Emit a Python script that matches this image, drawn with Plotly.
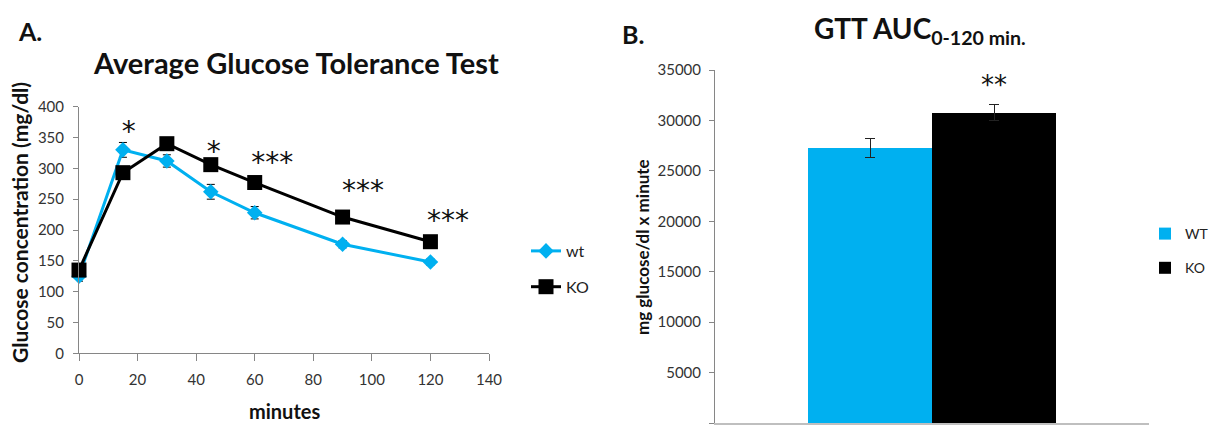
import plotly.graph_objects as go

# ---------------- Panel A data ----------------
minutes = [0, 15, 30, 45, 60, 90, 120]
wt_glucose = [125, 330, 312, 262, 228, 177, 148]
wt_sem = [8, 12, 10, 12, 10, 6, 5]
ko_glucose = [135, 293, 340, 306, 277, 221, 181]
ko_sem = [8, 10, 8, 8, 7, 6, 6]

sig_x = [17, 46, 66, 97, 126]
sig_y = [355, 324, 305, 260, 211]
sig_labels = ["*", "*", "***", "***", "***"]

x_ticks = [0, 20, 40, 60, 80, 100, 120, 140]
y_ticks_a = [0, 50, 100, 150, 200, 250, 300, 350, 400]

# ---------------- Panel B data ----------------
auc_groups = ["WT", "KO"]
auc_values = [27290, 30760]
auc_sem = [940, 800]
auc_sig_group = ["KO"]
auc_sig_y = [33240]
auc_sig_label = ["**"]
y_ticks_b = [0, 5000, 10000, 15000, 20000, 25000, 30000, 35000]

BLUE = "#00B0F0"
BLACK = "#000000"
AXIS = "#868686"
FONT = "Lato"
STAR_FONT = "DejaVu Sans"
W, H = 1212, 425

fig = go.Figure()

# Panel A lines
fig.add_trace(go.Scatter(
    x=minutes, y=wt_glucose, name="wt", mode="lines+markers",
    line=dict(color=BLUE, width=3),
    marker=dict(symbol="diamond", size=12, color=BLUE),
    error_y=dict(type="data", array=wt_sem, color=BLACK, thickness=1, width=4),
    cliponaxis=False, xaxis="x", yaxis="y", legend="legend", legendgroup="wt",
))
fig.add_trace(go.Scatter(
    x=minutes, y=ko_glucose, name="KO", mode="lines+markers",
    line=dict(color=BLACK, width=3),
    marker=dict(symbol="square", size=15, color=BLACK),
    error_y=dict(type="data", array=ko_sem, color=BLACK, thickness=1, width=4),
    cliponaxis=False, xaxis="x", yaxis="y", legend="legend", legendgroup="ko",
))
fig.add_trace(go.Scatter(
    x=sig_x, y=sig_y, text=sig_labels, mode="text", showlegend=False,
    textfont=dict(family=STAR_FONT, size=28, color="#111"),
    textposition="middle center", cliponaxis=False, xaxis="x", yaxis="y",
))

# Panel B bars
fig.add_trace(go.Bar(
    x=[auc_groups[0]], y=[auc_values[0]], name="WT", marker=dict(color=BLUE, line=dict(width=0)),
    error_y=dict(type="data", array=[auc_sem[0]], color="#222", thickness=1, width=5),
    xaxis="x2", yaxis="y2", legend="legend2", legendgroup="WT",
))
fig.add_trace(go.Bar(
    x=[auc_groups[1]], y=[auc_values[1]], name="KO", marker=dict(color=BLACK, line=dict(width=0)),
    error_y=dict(type="data", array=[auc_sem[1]], color="#222", thickness=1, width=5),
    xaxis="x2", yaxis="y2", legend="legend2", legendgroup="KO",
))
fig.add_trace(go.Scatter(
    x=auc_sig_group, y=auc_sig_y, text=auc_sig_label, mode="text", showlegend=False,
    textfont=dict(family=STAR_FONT, size=26, color="#111"),
    textposition="middle center", cliponaxis=False, xaxis="x2", yaxis="y2",
))

tickfont = dict(family=FONT, size=15, color="#333")

fig.update_layout(
    width=W, height=H,
    margin=dict(l=0, r=0, t=0, b=0, autoexpand=False),
    paper_bgcolor="white", plot_bgcolor="white",
    font=dict(family=FONT, color="#111"),
    barmode="overlay", bargap=0,
    xaxis=dict(domain=[79 / W, 489 / W], range=[0, 140], tickvals=x_ticks,
               ticks="outside", ticklen=7, tickcolor=AXIS, showline=True, linecolor=AXIS,
               linewidth=1, showgrid=False, zeroline=False, tickfont=tickfont,
               ticklabelstandoff=6, anchor="y"),
    yaxis=dict(domain=[1 - 353.3 / H, 1 - 106.7 / H], range=[0, 400], tickvals=y_ticks_a,
               ticks="outside", ticklen=5, tickcolor=AXIS, showline=True, linecolor=AXIS,
               linewidth=1, showgrid=False, zeroline=False, tickfont=tickfont,
               ticklabelstandoff=6, anchor="x"),
    xaxis2=dict(domain=[715 / W, 1149 / W], range=[-1.25, 2.25], type="category",
                showticklabels=False, ticks="", showline=True, linecolor="#BFBFBF",
                linewidth=3, showgrid=False, zeroline=False, anchor="y2"),
    yaxis2=dict(domain=[1 - 423 / H, 1 - 70 / H], range=[0, 35000], tickvals=y_ticks_b,
                tickformat="d",
                ticks="outside", ticklen=5, tickcolor=AXIS, showline=True, linecolor=AXIS,
                linewidth=1, showgrid=False, zeroline=False, tickfont=tickfont,
                ticklabelstandoff=5, anchor="x2"),
    legend=dict(x=526 / W, y=1 - 234 / H, xanchor="left", yanchor="top",
                font=dict(family=FONT, size=16, color="#222"), bgcolor="rgba(0,0,0,0)",
                traceorder="grouped", tracegroupgap=12, itemwidth=30),
    legend2=dict(x=1145 / W, y=1 - 218 / H, xanchor="left", yanchor="top",
                 font=dict(family=FONT, size=14, color="#222"), bgcolor="rgba(0,0,0,0)",
                 traceorder="grouped", tracegroupgap=13, itemwidth=30),
    showlegend=True,
)

ann = [
    dict(text="<b>A.</b>", x=30 / W, y=1 - 31 / H, size=25),
    dict(text="<b>B.</b>", x=633 / W, y=1 - 34 / H, size=25),
    dict(text="<b>Average Glucose Tolerance Test</b>", x=296 / W, y=1 - 62 / H, size=29),
    dict(text="<b>GTT AUC<sub>0-120 min.</sub></b>", x=920 / W, y=1 - 30 / H, size=28),
    dict(text="<b>minutes</b>", x=284 / W, y=1 - 411 / H, size=20),
]
for a in ann:
    fig.add_annotation(text=a["text"], x=a["x"], y=a["y"], xref="paper", yref="paper",
                       xanchor="center", yanchor="middle", showarrow=False,
                       font=dict(family=FONT, size=a["size"], color="#111"))

fig.add_annotation(text="<b>Glucose concentration (mg/dl)</b>", x=20 / W, y=1 - 223 / H,
                   xref="paper", yref="paper", textangle=-90, showarrow=False,
                   xanchor="center", yanchor="middle",
                   font=dict(family=FONT, size=21, color="#111"))
fig.add_annotation(text="<b>mg glucose/dl x minute</b>", x=642 / W, y=1 - 247 / H,
                   xref="paper", yref="paper", textangle=-90, showarrow=False,
                   xanchor="center", yanchor="middle",
                   font=dict(family=FONT, size=17, color="#111"))

fig.write_html("out.html", config={"displayModeBar": False},
               post_script="document.body.style.margin='0';document.body.style.overflow='hidden';")
